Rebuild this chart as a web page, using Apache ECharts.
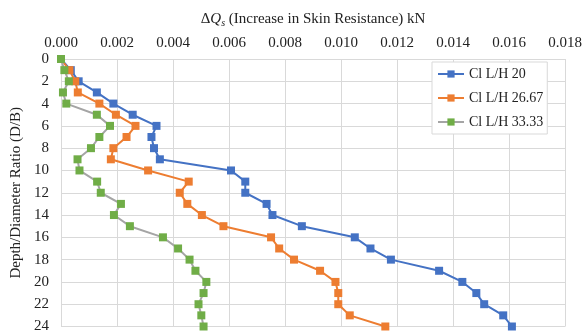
<!DOCTYPE html>
<html>
<head>
<meta charset="utf-8">
<script src="https://cdn.jsdelivr.net/npm/echarts@6/dist/echarts.min.js"></script>
<style>
    html, body { margin: 0; padding: 0; background: #fff; }
    #chart { width: 585px; height: 334px; }
</style>
</head>
<body>
<div id="chart"></div>
<script>
    // 深度比 D/B
    var depths = [0, 1, 2, 3, 4, 5, 6, 7, 8, 9, 10, 11, 12, 13, 14, 15, 16, 17, 18, 19, 20, 21, 22, 23, 24];
    var seriesNames = ['Cl L/H 20', 'Cl L/H 26.67', 'Cl L/H 33.33'];
    // ΔQs (kN)
    var lh20 = [0, 0.00035, 0.00063, 0.00128, 0.00187, 0.00256, 0.00341, 0.00323, 0.00332, 0.00353,
        0.00607, 0.00658, 0.00658, 0.00734, 0.00755, 0.0086, 0.01049, 0.01105, 0.01178, 0.0135,
        0.01433, 0.01483, 0.01511, 0.01579, 0.0161];
    var lh2667 = [0, 0.0003, 0.00051, 0.0006, 0.00137, 0.00196, 0.00266, 0.00234, 0.00187, 0.00178,
        0.00311, 0.00456, 0.00424, 0.00451, 0.00503, 0.0058, 0.0075, 0.00779, 0.00832, 0.00925,
        0.0098, 0.0099, 0.0099, 0.01031, 0.01158];
    var lh3333 = [0, 0.00012, 0.00028, 0.00007, 0.00019, 0.00128, 0.00175, 0.00137, 0.00107, 0.00059,
        0.00066, 0.00129, 0.00142, 0.00214, 0.00189, 0.00246, 0.00364, 0.00418, 0.00459, 0.0048,
        0.00519, 0.00509, 0.00491, 0.00501, 0.00509];

    function pairs(vals) {
        return vals.map(function (v, i) { return [v, depths[i]]; });
    }

    var font = "'Liberation Serif', 'DejaVu Serif', serif";
    var myEcharts = echarts.init(document.getElementById('chart'));
    myEcharts.setOption({
        animation: false,
        textStyle: { fontFamily: font },
        grid: { left: 61, top: 59, right: 18, bottom: 6 },
        legend: {
            orient: 'vertical',
            left: 432,
            top: 62,
            padding: [5, 4, 5, 5],
            itemGap: 10,
            itemWidth: 26,
            itemHeight: 9,
            backgroundColor: '#fff',
            borderColor: '#d9d9d9',
            borderWidth: 1,
            textStyle: { fontFamily: font, fontSize: 14, color: '#222' },
            data: seriesNames
        },
        xAxis: {
            type: 'value',
            position: 'top',
            min: 0,
            max: 0.018,
            interval: 0.002,
            name: '{n|Δ}{q|Q}{s|s}{n| (Increase in Skin Resistance) kN}',
            nameLocation: 'middle',
            nameGap: 31,
            nameTextStyle: {
                fontFamily: font,
                rich: {
                    n: { fontFamily: font, fontSize: 15, color: '#222' },
                    q: { fontFamily: font, fontSize: 15, fontStyle: 'italic', color: '#222' },
                    s: { fontFamily: font, fontSize: 10, fontStyle: 'italic', color: '#222', padding: [8, 0, 0, 0] }
                }
            },
            axisLine: { show: false },
            axisTick: { show: false },
            axisLabel: {
                margin: 8,
                fontFamily: font,
                fontSize: 15,
                color: '#222',
                formatter: function (v) { return v.toFixed(3); }
            },
            splitLine: { lineStyle: { color: '#d9d9d9', width: 1 } }
        },
        yAxis: {
            type: 'value',
            inverse: true,
            min: 0,
            max: 24,
            interval: 2,
            name: 'Depth/Diameter Ratio (D/B)',
            nameLocation: 'middle',
            nameGap: 28,
            nameTextStyle: { fontFamily: font, fontSize: 15, color: '#222' },
            axisLine: { show: true, lineStyle: { color: '#d9d9d9' } },
            axisTick: { show: false },
            axisLabel: { margin: 12, fontFamily: font, fontSize: 15, color: '#222' },
            splitLine: { lineStyle: { color: '#d9d9d9', width: 1 } }
        },
        series: [
            {
                name: seriesNames[0],
                type: 'line',
                data: pairs(lh20),
                symbol: 'rect',
                symbolSize: 8,
                lineStyle: { color: '#4472C4', width: 2 },
                itemStyle: { color: '#4472C4' }
            },
            {
                name: seriesNames[1],
                type: 'line',
                data: pairs(lh2667),
                symbol: 'rect',
                symbolSize: 8,
                lineStyle: { color: '#ED7D31', width: 2 },
                itemStyle: { color: '#ED7D31' }
            },
            {
                name: seriesNames[2],
                type: 'line',
                data: pairs(lh3333),
                symbol: 'rect',
                symbolSize: 8,
                lineStyle: { color: '#A5A5A5', width: 2 },
                itemStyle: { color: '#70AD47' }
            }
        ]
    });
</script>
</body>
</html>
